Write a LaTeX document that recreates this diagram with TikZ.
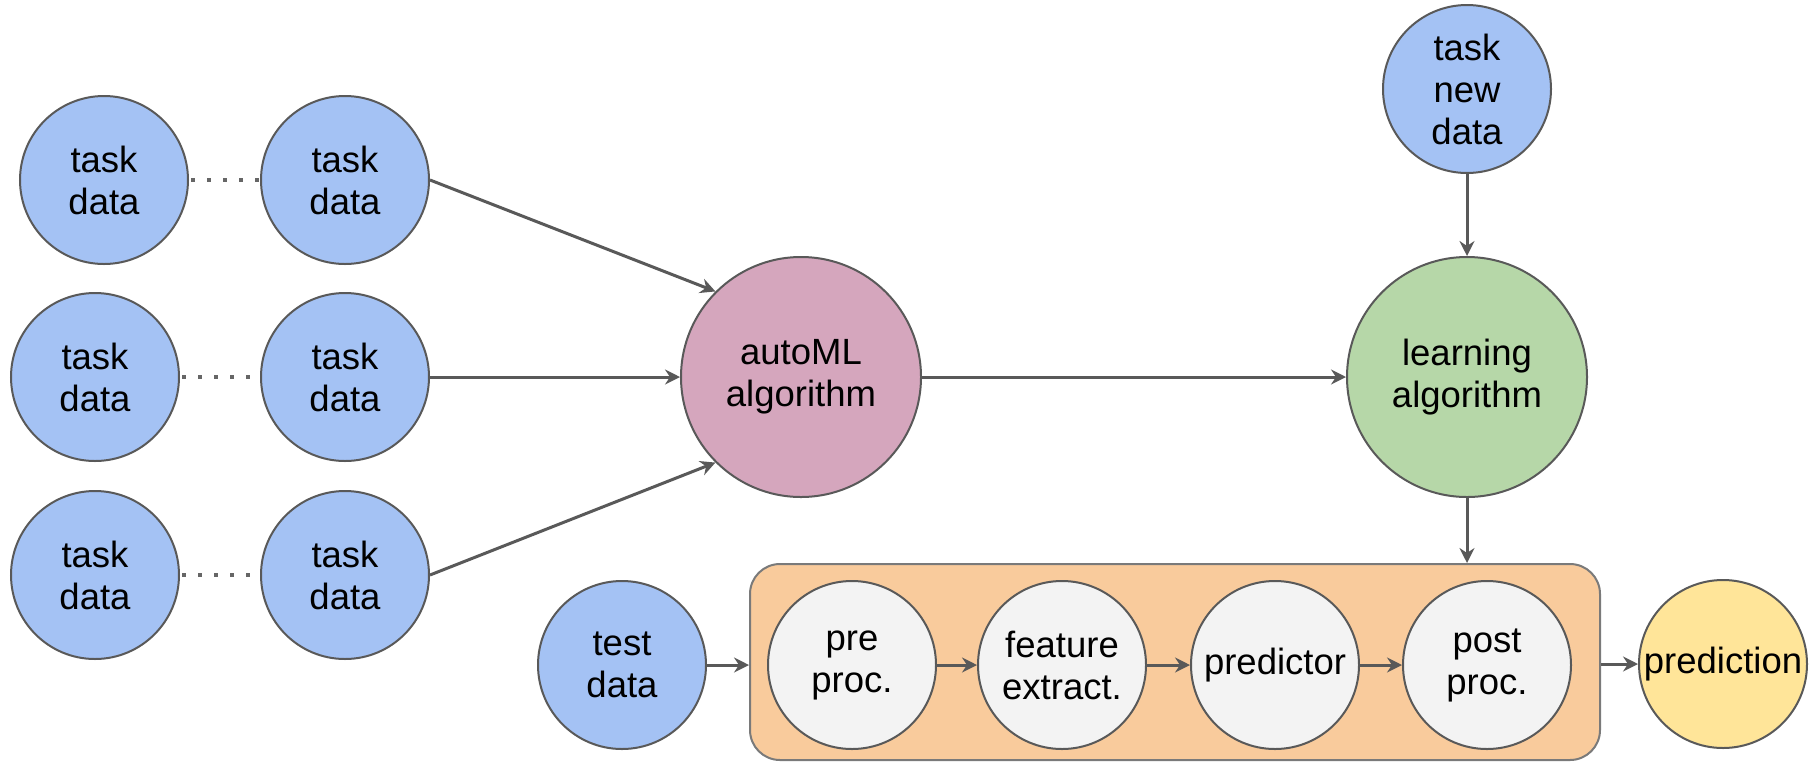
\documentclass[tikz,border=0pt]{standalone}
\usepackage{fontspec}
\setmainfont{Liberation Sans}
\usetikzlibrary{arrows.meta}

\definecolor{taskblue}{HTML}{A4C2F4}
\definecolor{automlpink}{HTML}{D5A6BD}
\definecolor{learngreen}{HTML}{B6D7A8}
\definecolor{pipeorange}{HTML}{F9CB9C}
\definecolor{stagegray}{HTML}{F3F3F3}
\definecolor{predyellow}{HTML}{FFE599}
\definecolor{edgegray}{HTML}{595959}
\definecolor{dotgray}{HTML}{666666}
\definecolor{boxgray}{HTML}{7A7A7A}

\begin{document}
\begin{tikzpicture}[x=0.5pt, y=-0.5pt,
  blob/.style={circle, draw=edgegray, line width=1pt, inner sep=0pt,
    minimum size=84pt, align=center,
    font=\fontsize{18.25}{21}\selectfont},
  big/.style={blob, minimum size=120pt},
  taskdata/.style={blob, fill=taskblue},
  stage/.style={blob, fill=stagegray},
  flow/.style={draw=edgegray, line width=1.5pt,
    -{Stealth[length=7.5pt, width=7.5pt, inset=2.5pt]}},
  dots/.style={draw=dotgray, line width=2pt,
    dash pattern=on 2pt off 6pt, dash phase=7pt},
  pipe/.style={draw=boxgray, fill=pipeorange, line width=1pt,
    rounded corners=15pt, minimum width=425pt, minimum height=98pt,
    inner sep=0pt}]

\useasboundingbox (0,0) rectangle (1810,761);

% meta-training tasks
\node[taskdata] (l1) at (104,180) {task\\data};
\node[taskdata] (r1) at (345,180) {task\\data};
\node[taskdata] (l2) at (95,377)  {task\\data};
\node[taskdata] (r2) at (345,377) {task\\data};
\node[taskdata] (l3) at (95,575)  {task\\data};
\node[taskdata] (r3) at (345,575) {task\\data};

\draw[dots] (l1) -- (r1);
\draw[dots] (l2) -- (r2);
\draw[dots] (l3) -- (r3);

% algorithms
\node[big, fill=automlpink] (auto)  at (801,377)  {autoML\\algorithm};
\node[big, fill=learngreen] (learn) at (1467,377) {learning\\algorithm};
\node[taskdata] (tnew) at (1467,89) {task\\new\\data};

\draw[flow] (r1.east) -- (auto.135);
\draw[flow] (r2) -- (auto);
\draw[flow] (r3.east) -- (auto.225);
\draw[flow] (auto) -- (learn);
\draw[flow] (tnew) -- (learn);

% learned pipeline
\node[pipe] (pipe) at (1175,662) {};
\node[taskdata] (test) at (622,665) {test\\data};
\node[stage] (pre)  at (852,665)  {pre\\proc.};
\node[stage] (feat) at (1062,665) {feature\\extract.};
\node[stage] (pred) at (1275,665) {predictor};
\node[stage] (post) at (1487,665) {post\\proc.};
\node[blob, fill=predyellow] (out) at (1723,664) {prediction};

\draw[flow] (learn) -- (learn |- pipe.north);
\draw[flow] (test.east) -- (test.east -| pipe.west);
\draw[flow] (pre) -- (feat);
\draw[flow] (feat) -- (pred);
\draw[flow] (pred) -- (post);
\draw[flow] (pipe.east |- out) -- (out);
\end{tikzpicture}
\end{document}
